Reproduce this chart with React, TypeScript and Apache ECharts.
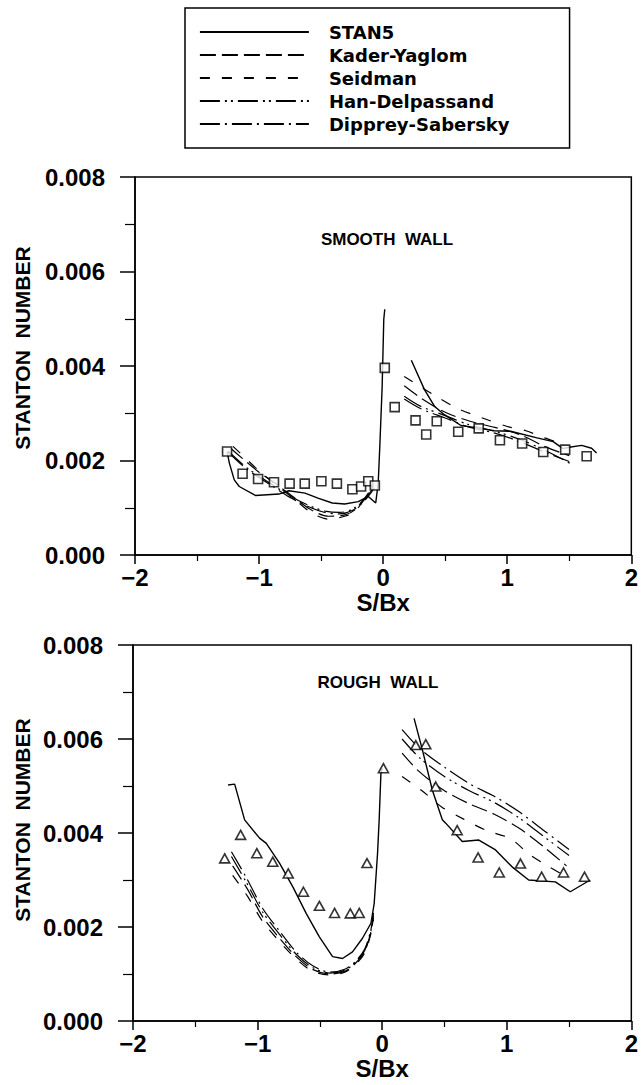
import { useEffect, useRef } from 'react';
import * as echarts from 'echarts';

// ---------- data ----------
const seriesNames = ['STAN5', 'Kader-Yaglom', 'Seidman', 'Han-Delpassand', 'Dipprey-Sabersky'];
const xTickValues = [-2, -1, 0, 1, 2];
const yTickValues = [0, 0.002, 0.004, 0.006, 0.008];

// Smooth wall
const smoothData = [
  [-1.258, 0.00219], [-1.133, 0.00172], [-1.008, 0.00161], [-0.88, 0.00154], [-0.754, 0.00151],
  [-0.632, 0.00151], [-0.498, 0.00156], [-0.373, 0.00151], [-0.248, 0.00139], [-0.178, 0.00145],
  [-0.12, 0.00156], [-0.067, 0.00147], [0.013, 0.00396], [0.093, 0.00313], [0.261, 0.00285],
  [0.347, 0.00255], [0.432, 0.00283], [0.605, 0.00261], [0.77, 0.00268], [0.941, 0.00243],
  [1.12, 0.00236], [1.29, 0.00218], [1.467, 0.00223], [1.64, 0.00209],
];
const stan5SmoothLeft = [
  [-1.258, 0.00219], [-1.24, 0.00195], [-1.2, 0.00159], [-1.16, 0.00145], [-1.03, 0.00126],
  [-0.84, 0.00129], [-0.76, 0.00136], [-0.63, 0.00131], [-0.52, 0.0012], [-0.41, 0.0011],
  [-0.31, 0.00108], [-0.2, 0.00113], [-0.12, 0.00124], [-0.06, 0.0011], [-0.04, 0.00152],
  [-0.027, 0.0023], [-0.008, 0.00357], [0.005, 0.00499], [0.013, 0.0052],
];
const stan5SmoothRight = [
  [0.227, 0.00412], [0.333, 0.0035], [0.413, 0.00315], [0.493, 0.00297], [0.627, 0.00274],
  [0.76, 0.00269], [0.893, 0.00263], [1.027, 0.00262], [1.24, 0.00248], [1.37, 0.0024],
  [1.45, 0.00225], [1.5, 0.00228], [1.6, 0.00232], [1.68, 0.00226], [1.72, 0.00216],
];
const kaderSmoothLeft = [
  [-1.23, 0.00226], [-1.0, 0.00175], [-0.87, 0.00152], [-0.71, 0.0012], [-0.57, 0.00094],
  [-0.44, 0.00082], [-0.31, 0.00085], [-0.23, 0.00095], [-0.15, 0.0012], [-0.08, 0.00146],
];
const kaderSmoothRight = [
  [0.17, 0.00358], [0.3, 0.00333], [0.5, 0.00302], [0.7, 0.00283], [0.9, 0.0027],
  [1.1, 0.00255], [1.3, 0.0023], [1.5, 0.0021],
];
const seidmanSmoothLeft = [
  [-1.21, 0.0023], [-1.0, 0.00178], [-0.87, 0.0015], [-0.71, 0.00117], [-0.57, 0.00088],
  [-0.44, 0.00076], [-0.31, 0.00082], [-0.23, 0.00092], [-0.15, 0.00118], [-0.08, 0.00145],
];
const seidmanSmoothRight = [
  [0.17, 0.00378], [0.4, 0.0034], [0.6, 0.0031], [0.8, 0.0029], [1.0, 0.00272],
  [1.15, 0.00263], [1.3, 0.00248], [1.45, 0.00235],
];
const hanSmoothLeft = [
  [-1.25, 0.0022], [-1.1, 0.00185], [-0.9, 0.0015], [-0.75, 0.00125], [-0.6, 0.00105],
  [-0.47, 0.00093], [-0.35, 0.0009], [-0.25, 0.00097], [-0.15, 0.00118], [-0.07, 0.00145],
];
const hanSmoothRight = [
  [0.17, 0.00336], [0.3, 0.00315], [0.5, 0.00295], [0.7, 0.00275], [0.9, 0.00262],
  [1.1, 0.00245], [1.3, 0.00222], [1.52, 0.00192],
];
const dippreySmoothLeft = [
  [-1.25, 0.00218], [-1.1, 0.00182], [-0.9, 0.00147], [-0.75, 0.00122], [-0.6, 0.00102],
  [-0.47, 0.0009], [-0.35, 0.00087], [-0.25, 0.00094], [-0.15, 0.00115], [-0.07, 0.00142],
];
const dippreySmoothRight = [
  [0.17, 0.0033], [0.3, 0.0031], [0.5, 0.0029], [0.7, 0.0027], [0.9, 0.00258],
  [1.1, 0.0024], [1.3, 0.00218], [1.5, 0.00198],
];

// Rough wall
const roughData = [
  [-1.264, 0.00346], [-1.136, 0.00396], [-1.006, 0.00357], [-0.878, 0.00339], [-0.754, 0.00314],
  [-0.632, 0.00275], [-0.504, 0.00245], [-0.382, 0.0023], [-0.256, 0.00229], [-0.184, 0.0023],
  [-0.122, 0.00336], [0.01, 0.00538], [0.27, 0.00587], [0.35, 0.00589], [0.43, 0.00499],
  [0.602, 0.00406], [0.77, 0.00348], [0.94, 0.00316], [1.11, 0.00335], [1.28, 0.00307],
  [1.456, 0.00316], [1.624, 0.00307],
];
const stan5RoughLeft = [
  [-1.237, 0.00502], [-1.184, 0.00504], [-1.104, 0.00428], [-0.984, 0.00389], [-0.93, 0.00378],
  [-0.824, 0.00336], [-0.718, 0.00286], [-0.61, 0.00229], [-0.504, 0.00179], [-0.398, 0.00137],
  [-0.318, 0.00133], [-0.238, 0.00147], [-0.158, 0.00176], [-0.09, 0.00208], [-0.064, 0.0025],
  [-0.037, 0.00357], [-0.024, 0.00428], [-0.01, 0.00527], [0.0, 0.00538],
];
const stan5RoughRight = [
  [0.256, 0.00644], [0.323, 0.00577], [0.403, 0.00491], [0.483, 0.00428], [0.51, 0.00421],
  [0.643, 0.00382], [0.776, 0.00385], [0.91, 0.00364], [1.043, 0.00328], [1.176, 0.003],
  [1.39, 0.00296], [1.51, 0.00275], [1.67, 0.003],
];
const kaderRoughLeft = [
  [-1.2, 0.0033], [-1.08, 0.0028], [-0.96, 0.00222], [-0.82, 0.00175], [-0.69, 0.00137],
  [-0.56, 0.0011], [-0.42, 0.001], [-0.3, 0.00106], [-0.21, 0.00124], [-0.14, 0.00148],
  [-0.09, 0.0019], [-0.07, 0.0022],
];
const kaderRoughRight = [
  [0.16, 0.0057], [0.3, 0.0053], [0.5, 0.0049], [0.7, 0.00462], [0.9, 0.0044],
  [1.1, 0.0041], [1.3, 0.0037], [1.48, 0.0033],
];
const seidmanRoughLeft = [
  [-1.2, 0.0031], [-1.08, 0.00265], [-0.96, 0.00212], [-0.82, 0.00168], [-0.69, 0.00132],
  [-0.56, 0.00106], [-0.42, 0.00098], [-0.3, 0.00104], [-0.21, 0.00121], [-0.14, 0.00145],
  [-0.09, 0.00186], [-0.07, 0.00215],
];
const seidmanRoughRight = [
  [0.16, 0.0052], [0.32, 0.0049], [0.48, 0.00455], [0.65, 0.0043], [0.84, 0.00405],
  [1.03, 0.00388], [1.18, 0.00355], [1.34, 0.00328], [1.46, 0.0031],
];
const hanRoughLeft = [
  [-1.21, 0.0035], [-1.09, 0.00295], [-0.96, 0.00232], [-0.82, 0.00183], [-0.69, 0.00142],
  [-0.56, 0.00114], [-0.42, 0.00102], [-0.3, 0.00108], [-0.21, 0.00126], [-0.14, 0.0015],
  [-0.09, 0.00192], [-0.07, 0.00225],
];
const hanRoughRight = [
  [0.16, 0.006], [0.3, 0.0056], [0.5, 0.0052], [0.7, 0.0049], [0.9, 0.00465],
  [1.1, 0.00432], [1.3, 0.00392], [1.5, 0.00352],
];
const dippreyRoughLeft = [
  [-1.21, 0.0036], [-1.09, 0.00305], [-0.96, 0.0024], [-0.82, 0.0019], [-0.69, 0.00147],
  [-0.56, 0.00118], [-0.42, 0.00104], [-0.3, 0.0011], [-0.21, 0.00128], [-0.14, 0.00153],
  [-0.09, 0.00195], [-0.07, 0.0023],
];
const dippreyRoughRight = [
  [0.16, 0.0062], [0.3, 0.0058], [0.5, 0.0054], [0.7, 0.00505], [0.9, 0.00478],
  [1.1, 0.00445], [1.3, 0.00405], [1.5, 0.00365],
];

// ---------- styles ----------
const FONT = 'Liberation Sans';
const dashOf: Record<string, any> = {
  'STAN5': 'solid',
  'Kader-Yaglom': [16, 6],
  'Seidman': [10, 12],
  'Han-Delpassand': [20, 5, 2, 4, 2, 5],
  'Dipprey-Sabersky': [20, 5, 2, 5],
};

function lineSeries(name: string, data: number[][], gi: number, smooth: number) {
  return {
    type: 'line',
    name,
    xAxisIndex: gi,
    yAxisIndex: gi,
    data,
    symbol: 'none',
    smooth,
    lineStyle: { color: '#000', width: name === 'STAN5' ? 1.4 : 1.2, type: dashOf[name] },
    itemStyle: { color: '#000' },
    z: 3,
  };
}

function xAxisCfg(gi: number) {
  return {
    type: 'value',
    gridIndex: gi,
    min: -2,
    max: 2,
    interval: 1,
    axisLine: { show: true, onZero: false, lineStyle: { color: '#000', width: 1.5 } },
    axisTick: { show: true, length: 9, lineStyle: { color: '#000', width: 1.5 } },
    minorTick: { show: true, splitNumber: 2, length: 6, lineStyle: { color: '#000', width: 1.2 } },
    splitLine: { show: false },
    minorSplitLine: { show: false },
    axisLabel: {
      margin: 10,
      color: '#000',
      fontSize: 24,
      fontWeight: 'bold',
      fontFamily: FONT,
      formatter: (v: number) => (v < 0 ? '\u2212' + Math.abs(v) : String(v)),
    },
    name: 'S/Bx',
    nameLocation: 'middle',
    nameGap: 35,
    nameTextStyle: { color: '#000', fontSize: 24, fontWeight: 'bold', fontFamily: FONT },
  };
}

function yAxisCfg(gi: number) {
  return {
    type: 'value',
    gridIndex: gi,
    min: 0,
    max: 0.008,
    interval: 0.002,
    axisLine: { show: true, onZero: false, lineStyle: { color: '#000', width: 1.5 } },
    axisTick: { show: true, length: 15, lineStyle: { color: '#000', width: 1.5 } },
    minorTick: { show: true, splitNumber: 2, length: 10, lineStyle: { color: '#000', width: 1.2 } },
    splitLine: { show: false },
    minorSplitLine: { show: false },
    axisLabel: {
      margin: 30,
      color: '#000',
      fontSize: 24,
      fontWeight: 'bold',
      fontFamily: FONT,
      formatter: (v: number) => v.toFixed(3),
    },
  };
}

function scatterSeries(data: number[][], gi: number, symbol: string, size: any) {
  return {
    type: 'scatter',
    name: gi === 0 ? 'Smooth data' : 'Rough data',
    xAxisIndex: gi,
    yAxisIndex: gi,
    data,
    symbol,
    symbolSize: size,
    itemStyle: { color: '#fff', borderColor: '#000', borderWidth: 1.6 },
    z: 5,
  };
}

export default function App() {
  const ref = useRef<HTMLDivElement>(null);
  useEffect(() => {
    const chart = echarts.init(ref.current!, null, { renderer: 'svg' });
    const series: any[] = [
      lineSeries('STAN5', stan5SmoothLeft, 0, 0),
      lineSeries('STAN5', stan5SmoothRight, 0, 0),
      lineSeries('Kader-Yaglom', kaderSmoothLeft, 0, 0.3),
      lineSeries('Kader-Yaglom', kaderSmoothRight, 0, 0.3),
      lineSeries('Seidman', seidmanSmoothLeft, 0, 0.3),
      lineSeries('Seidman', seidmanSmoothRight, 0, 0.3),
      lineSeries('Han-Delpassand', hanSmoothLeft, 0, 0.3),
      lineSeries('Han-Delpassand', hanSmoothRight, 0, 0.3),
      lineSeries('Dipprey-Sabersky', dippreySmoothLeft, 0, 0.3),
      lineSeries('Dipprey-Sabersky', dippreySmoothRight, 0, 0.3),
      scatterSeries(smoothData, 0, 'rect', 9),
      lineSeries('STAN5', stan5RoughLeft, 1, 0),
      lineSeries('STAN5', stan5RoughRight, 1, 0),
      lineSeries('Kader-Yaglom', kaderRoughLeft, 1, 0.3),
      lineSeries('Kader-Yaglom', kaderRoughRight, 1, 0.3),
      lineSeries('Seidman', seidmanRoughLeft, 1, 0.3),
      lineSeries('Seidman', seidmanRoughRight, 1, 0.3),
      lineSeries('Han-Delpassand', hanRoughLeft, 1, 0.3),
      lineSeries('Han-Delpassand', hanRoughRight, 1, 0.3),
      lineSeries('Dipprey-Sabersky', dippreyRoughLeft, 1, 0.3),
      lineSeries('Dipprey-Sabersky', dippreyRoughRight, 1, 0.3),
      scatterSeries(roughData, 1, 'triangle', [10, 9]),
    ];
    const option: any = {
      animation: false,
      backgroundColor: '#fff',
      legend: {
        data: seriesNames,
        orient: 'vertical',
        left: 185,
        top: 8,
        itemWidth: 109,
        itemHeight: 12,
        itemGap: 3,
        padding: [14, 60, 14, 14],
        borderColor: '#000',
        borderWidth: 1.5,
        selectedMode: false,
        lineStyle: { width: 1.8 },
        itemStyle: { color: 'rgba(0,0,0,0)', borderColor: 'rgba(0,0,0,0)', borderWidth: 0, opacity: 0 },
        textStyle: {
          color: '#000',
          fontSize: 18,
          fontWeight: 'bold',
          fontFamily: 'DejaVu Sans',
          padding: [0, 0, 0, 15],
          lineHeight: 20,
        },
      },
      grid: [
        { left: 135, top: 177, width: 500, height: 378, show: true, borderColor: '#000', borderWidth: 1.5, backgroundColor: 'transparent' },
        { left: 133, top: 645, width: 500, height: 376, show: true, borderColor: '#000', borderWidth: 1.5, backgroundColor: 'transparent' },
      ],
      xAxis: [xAxisCfg(0), xAxisCfg(1)],
      yAxis: [yAxisCfg(0), yAxisCfg(1)],
      series,
      graphic: [
        { type: 'text', x: 387, y: 239, style: { text: 'SMOOTH  WALL', fill: '#000', font: `bold 17px "${FONT}"`, align: 'center', verticalAlign: 'middle' } },
        { type: 'text', x: 378, y: 682, style: { text: 'ROUGH  WALL', fill: '#000', font: `bold 17px "${FONT}"`, align: 'center', verticalAlign: 'middle' } },
        { type: 'text', x: 22, y: 348, rotation: Math.PI / 2, style: { text: 'STANTON  NUMBER', fill: '#000', font: `bold 21px "${FONT}"`, align: 'center', verticalAlign: 'middle' } },
        { type: 'text', x: 22, y: 820, rotation: Math.PI / 2, style: { text: 'STANTON  NUMBER', fill: '#000', font: `bold 21px "${FONT}"`, align: 'center', verticalAlign: 'middle' } },
      ],
    };
    chart.setOption(option);
    return () => chart.dispose();
  }, []);
  return <div ref={ref} style={{ position: 'absolute', left: 0, top: 0, width: 641, height: 1085, background: '#fff' }} />;
}
